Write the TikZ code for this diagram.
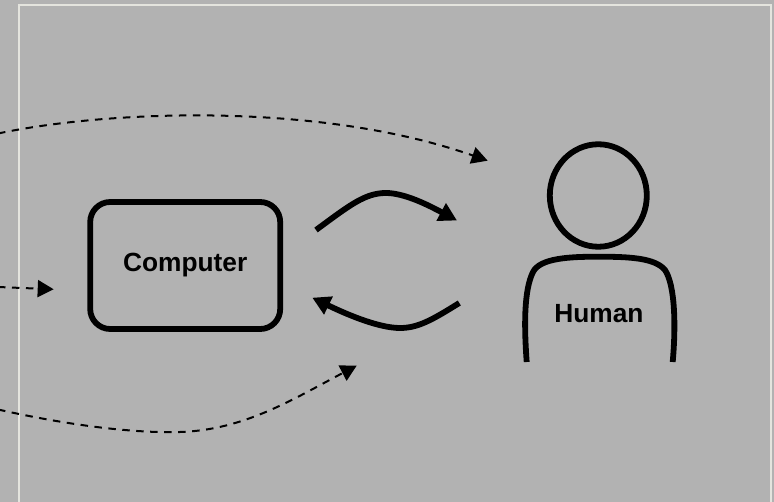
\documentclass[tikz,border=0pt]{standalone}
\usepackage{fontspec}
\setmainfont{Liberation Sans}
\usetikzlibrary{arrows.meta,shapes.geometric}
\definecolor{panelgray}{HTML}{B2B2B2}
\definecolor{framegray}{HTML}{E4E4DE}
\tikzset{
  thick line/.style={line width=5.8pt},
  big arrow/.style={thick line, -{Triangle[length=18pt,width=19pt]}},
  dash arrow/.style={line width=2pt, dash pattern=on 7.5pt off 6.5pt, -{Triangle[length=16pt,width=17pt]}},
  name text/.style={font=\fontsize{26.3}{26.3}\selectfont\bfseries},
}
\begin{document}
\begin{tikzpicture}[x=1pt,y=-1pt]
\path[use as bounding box, fill=panelgray] (0, 0) rectangle (774, 502);
\draw[framegray, line width=2pt] (18.5, 502) -- (18.5, 5.5) -- (771, 5.5) -- (771, 502);

\node[name text, draw, thick line, rounded corners=20pt, minimum width=190pt, minimum height=127pt, text depth=6pt] (computer) at (185.2, 265.5) {Computer};
\node[ellipse, draw, thick line, minimum width=97pt, minimum height=102.5pt, inner sep=0pt] (head) at (598.3, 195.5) {};
\node[name text, inner sep=0pt] (human) at (599, 314) {Human};

\path (526.7, 362) coordinate (hipL) (672.7, 362) coordinate (hipR);
\draw[thick line]
     (hipL)
  .. controls (524, 325) and (524, 290) .. (533, 272)
  .. controls (540, 258) and (570, 256.7) .. (598, 256.7)
  .. controls (630, 256.7) and (655, 258) .. (665, 270)
  .. controls (675, 285) and (676, 325) .. (hipR);

% exchange between the two
\path (316, 230) coordinate (outA) (457, 220.5) coordinate (inA);
\path (459.3, 303) coordinate (outB) (312.3, 297.7) coordinate (inB);
\draw[big arrow] (outA) .. controls (350, 205) and (365, 193) .. (386, 193)
  .. controls (405, 193) and (430, 206) .. (inA);
\draw[big arrow] (outB) .. controls (432, 320) and (418, 328) .. (400, 328)
  .. controls (380, 328) and (350, 316) .. (inB);

% from outside
\path (-2, 133.5) coordinate (farA) (487.7, 160.7) coordinate (tipA);
\path (-2, 287) coordinate (farB) (53.7, 289.3) coordinate (tipB);
\path (-2, 409.5) coordinate (farC) (356.7, 365.7) coordinate (tipC);
\draw[dash arrow] (farA) .. controls (110, 110) and (320, 102) .. (tipA);
\draw[dash arrow] (farB) -- (tipB);
\draw[dash arrow] (farC) .. controls (90, 430) and (150, 433) .. (180, 432)
  .. controls (245, 430) and (295, 398) .. (tipC);
\end{tikzpicture}
\end{document}
